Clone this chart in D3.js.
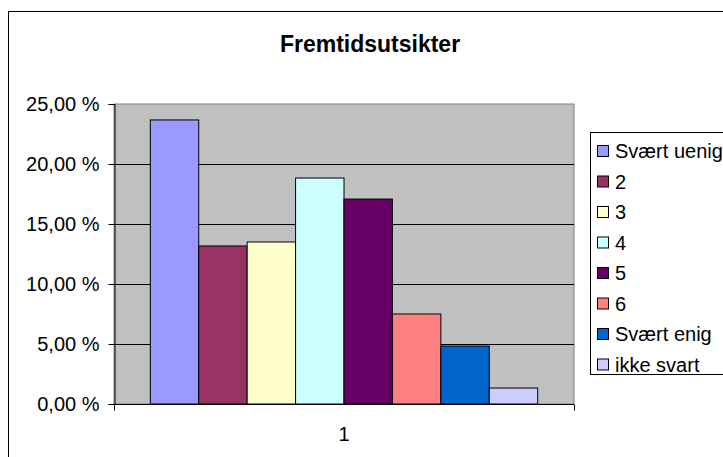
<!DOCTYPE html>
<html>
<head>
<meta charset="utf-8">
<script src="https://cdn.jsdelivr.net/npm/d3@7"></script>
<style>
  html, body { margin: 0; padding: 0; background: #fff; }
  svg { display: block; font-family: "Liberation Sans", Arial, sans-serif; }
</style>
</head>
<body>
<svg id="chart" width="723" height="457"></svg>
<script>
// data
const categories = ['1'];
const series = ['Svært uenig', '2', '3', '4', '5', '6', 'Svært enig', 'ikke svart'];
const values = [23.67, 13.17, 13.5, 18.83, 17.08, 7.5, 4.83, 1.33];
const colors = ['#9999FF', '#993366', '#FFFFCC', '#CCFFFF', '#660066', '#FF8080', '#0066CC', '#CCCCFF'];
const yTicks = [0, 5, 10, 15, 20, 25];
const title = 'Fremtidsutsikter';

const svg = d3.select('#chart');
const plot = { left: 114, top: 104, right: 574, bottom: 404 };

// chart frame (runs off the right and bottom edge)
svg.append('rect').attr('x', 8.5).attr('y', 11.5).attr('width', 740).attr('height', 460)
  .attr('fill', '#fff').attr('stroke', '#000');

svg.append('text').attr('x', 370).attr('y', 52).attr('text-anchor', 'middle')
  .attr('font-size', 23).attr('font-weight', 'bold').text(title);

const y = d3.scaleLinear().domain([0, 25]).range([plot.bottom, plot.top]);
const x = d3.scaleBand().domain(categories).range([plot.left, plot.right]);
// gap width 150% of one bar
const gap = x.bandwidth() / (series.length + 1.5) * 0.75;
const xs = d3.scaleBand().domain(series).range([gap, x.bandwidth() - gap]);

svg.append('rect').attr('x', plot.left).attr('y', plot.top)
  .attr('width', plot.right - plot.left).attr('height', plot.bottom - plot.top)
  .attr('fill', '#C0C0C0').attr('stroke', '#808080');

// gridlines
svg.append('g').selectAll('line').data(yTicks.filter(t => t > 0 && t < 25)).enter().append('line')
  .attr('x1', plot.left).attr('x2', plot.right)
  .attr('y1', d => Math.round(y(d)) + 0.5).attr('y2', d => Math.round(y(d)) + 0.5)
  .attr('stroke', '#000');

// bars
svg.append('g').selectAll('rect').data(series).enter().append('rect')
  .attr('x', (d) => x('1') + xs(d))
  .attr('y', (d, i) => y(values[i]))
  .attr('width', xs.bandwidth())
  .attr('height', (d, i) => y(0) - y(values[i]))
  .attr('fill', (d, i) => colors[i])
  .attr('stroke', '#000').attr('stroke-width', 1);

const fmt = v => v.toFixed(2).replace('.', ',') + ' %';

// y axis
const yAxis = svg.append('g').attr('transform', `translate(${plot.left + 0.5},0)`)
  .call(d3.axisLeft(y).tickValues(yTicks).tickSize(6).tickPadding(9).tickFormat(fmt));
yAxis.select('.domain').attr('stroke', '#000');
yAxis.selectAll('text').attr('font-size', 20).attr('fill', '#000')
  .attr('font-family', '"Liberation Sans", Arial, sans-serif');

// x axis
const xAxis = svg.append('g').attr('transform', `translate(0,${plot.bottom + 0.5})`)
  .call(d3.axisBottom(x).tickSize(0).tickPadding(22));
xAxis.select('.domain').attr('stroke', '#000').attr('d', `M${plot.left},0H${plot.right}`);
xAxis.selectAll('text').attr('font-size', 20).attr('fill', '#000')
  .attr('font-family', '"Liberation Sans", Arial, sans-serif');
xAxis.selectAll('.cat-tick').data([plot.left, plot.right]).enter().append('line')
  .attr('x1', d => d + 0.5).attr('x2', d => d + 0.5).attr('y1', 0).attr('y2', 6).attr('stroke', '#000');

// legend
const legend = svg.append('g');
legend.append('rect').attr('x', 590.5).attr('y', 132.5).attr('width', 160).attr('height', 242)
  .attr('fill', '#fff').attr('stroke', '#000');
const item = legend.selectAll('g.item').data(series).enter().append('g')
  .attr('transform', (d, i) => `translate(597,${151 + i * 30.5})`);
item.append('rect').attr('x', 0.5).attr('y', -5.5).attr('width', 11).attr('height', 11)
  .attr('fill', (d, i) => colors[i]).attr('stroke', '#000');
item.append('text').attr('x', 18).attr('y', 7).attr('font-size', 20).text(d => d);
</script>
</body>
</html>
